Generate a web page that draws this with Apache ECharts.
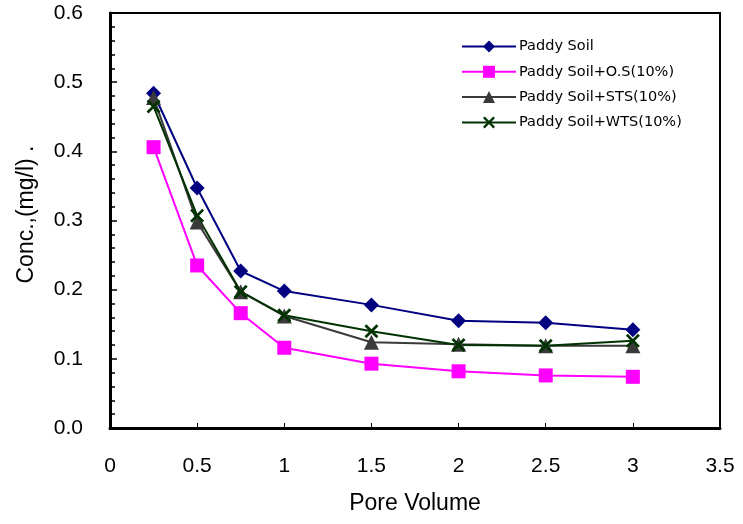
<!DOCTYPE html>
<html>
<head>
<meta charset="utf-8">
<script src="https://cdn.jsdelivr.net/npm/echarts@6/dist/echarts.min.js"></script>
<style>html,body{margin:0;padding:0;background:#fff}#c{width:743px;height:524px}</style>
</head>
<body>
<div id="c"></div>
<script>
const poreVolume = [0.25, 0.5, 0.75, 1, 1.5, 2, 2.5, 3];
const paddySoil = [0.484, 0.347, 0.227, 0.198, 0.178, 0.155, 0.152, 0.142];
const paddyOS = [0.406, 0.235, 0.166, 0.116, 0.093, 0.082, 0.076, 0.074];
const paddySTS = [0.478, 0.298, 0.197, 0.162, 0.124, 0.121, 0.119, 0.119];
const paddyWTS = [0.465, 0.307, 0.197, 0.163, 0.140, 0.120, 0.119, 0.126];
const seriesNames = ['Paddy Soil', 'Paddy Soil+O.S(10%)', 'Paddy Soil+STS(10%)', 'Paddy Soil+WTS(10%)'];

const font = 'Liberation Sans, Arial, sans-serif';
const pair = arr => poreVolume.map((x, i) => [x, arr[i]]);
const xSym = 'path://M0,1.4L1.4,0L5,3.6L8.6,0L10,1.4L6.4,5L10,8.6L8.6,10L5,6.4L1.4,10L0,8.6L3.6,5Z';

const chart = echarts.init(document.getElementById('c'), null, {renderer: 'canvas'});
chart.setOption({
  animation: false,
  backgroundColor: '#fff',
  grid: {left: 110, right: 23, top: 13, bottom: 96, show: true, borderColor: '#000', borderWidth: 2},
  legend: {
    orient: 'vertical', left: 456, top: 34,
    itemWidth: 54, itemHeight: 15, itemGap: 10.3,
    textStyle: {fontFamily: 'DejaVu Sans, sans-serif', fontSize: 14.5, color: '#000', padding: [0, 0, 0, -2]},
    data: seriesNames
  },
  xAxis: {
    type: 'value', min: 0, max: 3.5, interval: 0.5,
    name: 'Pore Volume', nameLocation: 'middle', nameGap: 64,
    nameTextStyle: {fontFamily: font, fontSize: 23, color: '#000'},
    axisLine: {show: true, onZero: false, lineStyle: {color: '#000', width: 3}},
    axisTick: {show: true, inside: true, length: 5, lineStyle: {color: '#000', width: 1}},
    axisLabel: {fontFamily: font, fontSize: 21, color: '#000', margin: 28},
    splitLine: {show: false}
  },
  yAxis: {
    type: 'value', min: 0, max: 0.6, interval: 0.1,
    name: 'Conc.,(mg/l) .', nameLocation: 'middle', nameGap: 72,
    nameTextStyle: {fontFamily: font, fontSize: 23, color: '#000', padding: [0, 0, 0, 12]},
    axisLine: {show: true, onZero: false, lineStyle: {color: '#000', width: 3}},
    axisTick: {show: true, inside: true, length: 7, lineStyle: {color: '#000', width: 1.5}},
    minorTick: {show: true, splitNumber: 5, length: 5, lineStyle: {color: '#000', width: 1.5}},
    axisLabel: {fontFamily: font, fontSize: 21, color: '#000', margin: 27, formatter: v => v.toFixed(1)},
    splitLine: {show: false}
  },
  series: [
    {name: seriesNames[0], type: 'line', data: pair(paddySoil), symbol: 'diamond', symbolSize: 15,
     itemStyle: {color: '#000080'}, lineStyle: {color: '#000080', width: 2}},
    {name: seriesNames[1], type: 'line', data: pair(paddyOS), symbol: 'rect', symbolSize: 14,
     itemStyle: {color: '#FF00FF'}, lineStyle: {color: '#FF00FF', width: 2}},
    {name: seriesNames[2], type: 'line', data: pair(paddySTS), symbol: 'triangle', symbolSize: 15,
     itemStyle: {color: '#3a3a3a'}, lineStyle: {color: '#3a3a3a', width: 2}},
    {name: seriesNames[3], type: 'line', data: pair(paddyWTS), symbol: xSym, symbolSize: 14,
     itemStyle: {color: '#003300'}, lineStyle: {color: '#003300', width: 2}}
  ]
});
</script>
</body>
</html>
